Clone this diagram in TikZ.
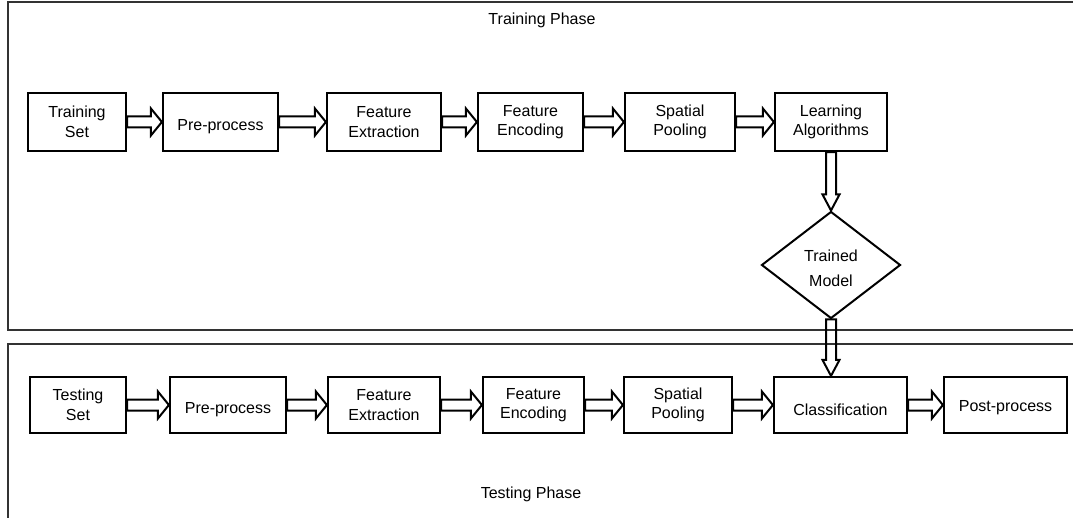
\documentclass[tikz,border=0pt]{standalone}
\usepackage{fontspec}
\setmainfont{Liberation Sans}
\usepackage{tikz}
\usetikzlibrary{calc,shapes.geometric}

% hollow block arrows between stages
\newcommand{\hblock}[2]{%
  \draw[blockarrow] ($(#1.east)+(0,5.5pt)$) -- ($(#1.east -| #2.west)+(-11pt,5.5pt)$)
    -- ++(0,8pt) -- (#1.east -| #2.west) -- ++(-11pt,-13.5pt) -- ++(0,8pt)
    -- ($(#1.east)+(0,-5.5pt)$) -- cycle;}
\newcommand{\vblock}[2]{%
  \draw[blockarrow] ($(#1.south)+(-5pt,0)$) -- ($(#1.south |- #2.north)+(-5pt,16pt)$)
    -- ++(-3.5pt,0) -- (#1.south |- #2.north) -- ++(8.5pt,16pt) -- ++(-3.5pt,0)
    -- ($(#1.south)+(5pt,0)$) -- cycle;}
% single-line labels sit a little low in their boxes
\newcommand{\low}[2][5pt]{\raisebox{-#1}[\height][\depth]{#2}}

\begin{document}
\begin{tikzpicture}[
  x=1pt, y=-1pt,
  stage/.style={draw, line width=2.2pt, align=center, inner sep=0pt,
    font=\fontsize{16}{19.5}\selectfont},
  decision/.style={diamond, draw, line width=2pt, minimum width=139pt,
    minimum height=107pt, inner sep=0pt, align=center,
    font=\fontsize{16}{25}\selectfont},
  blockarrow/.style={line width=2pt, line join=miter},
  frame/.style={line width=1.4pt, black!80},
  phase/.style={font=\fontsize{16}{19.5}\selectfont}
]
\useasboundingbox (0,0) rectangle (1073,518);
\clip (0,0) rectangle (1073,518);

% phase frames
\draw[frame] (1080,2) -- (8,2) -- (8,330) -- (1080,330);
\draw[frame] (1080,344) -- (8,344) -- (8,530);
\node[phase] (trainlab) at (542,20) {Training Phase};
\node[phase] (testlab) at (531,494) {Testing Phase};

% training row
\foreach \i/\l/\r/\lab in {1/28/126/{Training\\Set}, 2/163/278/{\low{Pre-process}},
    3/327/441/{Feature\\Extraction}, 4/478/583/{Feature\\Encoding},
    5/625/735/{Spatial\\Pooling}, 6/775/887/{Learning\\Algorithms}} {
  \node[stage, minimum width={(\r-\l)*1pt}, minimum height=58pt]
    (tr\i) at ({(\l+\r)/2},122) {\lab};
}
\foreach \a/\b in {1/2,2/3,3/4,4/5,5/6} {
  \hblock{tr\a}{tr\b}
}

% testing row
\foreach \i/\l/\r/\lab in {1/30/126/{Testing\\Set}, 2/170/286/{\low{Pre-process}},
    3/328/440/{Feature\\Extraction}, 4/483/584/{Feature\\Encoding},
    5/624/732/{Spatial\\Pooling}, 6/774/907/{\low{Classification}},
    7/944/1067/{\low[3pt]{Post-process}}} {
  \node[stage, minimum width={(\r-\l)*1pt}, minimum height=56pt]
    (te\i) at ({(\l+\r)/2},405) {\lab};
}
\foreach \a/\b in {1/2,2/3,3/4,4/5,5/6,6/7} {
  \hblock{te\a}{te\b}
}

% trained model in between
\node[decision] (model) at (831,265) {\low[3pt]{Trained}\\\low[3pt]{Model}};
\vblock{tr6}{model}
\vblock{model}{te6}
\end{tikzpicture}
\end{document}
